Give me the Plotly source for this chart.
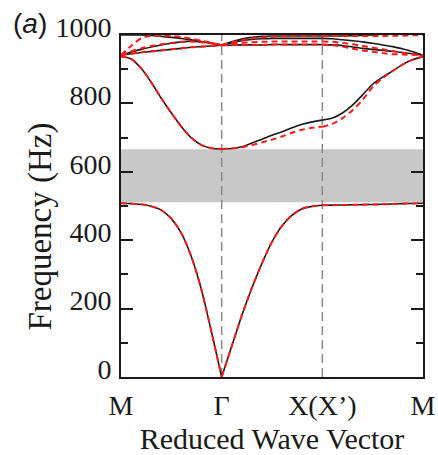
import plotly.graph_objects as go

# Path coordinate: M=0, Gamma=1, X=2, M=3
k_path = [0.0, 0.1, 0.2, 0.3, 0.4, 0.5, 0.6, 0.7, 0.8, 0.9, 1.0,
          1.1, 1.2, 1.3, 1.4, 1.5, 1.6, 1.7, 1.8, 1.9, 2.0,
          2.1, 2.2, 2.3, 2.4, 2.5, 2.6, 2.7, 2.8, 2.9, 3.0]
tick_pos = [0, 1, 2, 3]
tick_text = ["M", "Γ", "X(X’)", "M"]
y_ticks = [0, 200, 400, 600, 800, 1000]
gap_low = 511
gap_high = 666

# Model A (black solid)
black_1 = [508, 507, 505, 499, 488, 463, 420, 351, 254, 130, 0,
           90, 180, 260, 332, 395, 442, 473, 492, 499, 502,
           502.5, 503, 503.5, 504, 504.5, 505, 506, 507, 507.5, 508]
black_2 = [937, 930, 903, 862, 815, 772, 732, 699, 678, 669, 667,
           668, 673, 684, 695, 707, 717, 729, 739, 746, 751,
           757, 772, 795, 825, 856, 877, 895, 914, 928, 937]
black_3 = [941, 945, 949, 952, 955, 958, 961, 964, 966, 968, 970,
           970, 971, 971, 971, 972, 972, 972, 972, 972, 972,
           971, 969, 965, 961, 958, 955, 952, 949, 945, 941]
black_4 = [941, 950, 958, 965, 971, 976, 980, 982, 980, 976, 970,
           977, 983, 987, 989, 990, 990, 990, 990, 990, 990,
           989, 986, 983, 980, 976, 971, 966, 959, 951, 941]
black_5 = [1000, 1000, 1000, 999, 996, 993, 990, 986, 981, 976, 971,
           980, 988, 993, 996, 997, 997, 997, 997, 997, 997,
           997, 997, 998, 999, 1000, 1002, 1004, 1006, 1008, 1010]

# Model B (red dashed)
red_1 = [508, 507, 505, 499, 488, 463, 420, 351, 254, 130, 0,
         90, 180, 260, 332, 395, 442, 473, 492, 499, 502,
         502.5, 503, 503.5, 504, 504.5, 505, 506, 507, 507.5, 508]
red_2 = [937, 930, 903, 862, 815, 772, 732, 699, 678, 669, 667,
         668, 672, 678, 686, 694, 703, 714, 723, 729, 732,
         740, 757, 780, 810, 848, 874, 895, 914, 928, 937]
red_3 = [941, 945, 949, 952, 955, 958, 961, 964, 966, 968, 970,
         970, 971, 971, 971, 972, 972, 972, 972, 972, 972,
         970, 966, 960, 955, 951, 947, 944, 943, 942, 941]
red_4 = [941, 952, 961, 968, 973, 977, 980, 981, 979, 975, 970,
         974, 977, 979, 980, 981, 981, 981, 981, 981, 981,
         980, 977, 973, 968, 963, 958, 953, 948, 944, 941]
red_5 = [941, 968, 990, 998, 998, 997, 994, 989, 983, 977, 971,
         978, 985, 990, 993, 995, 996, 997, 997, 997, 997,
         997, 997, 997, 997, 997, 997, 998, 998, 999, 1000]

black_bands = [black_1, black_2, black_3, black_4, black_5]
red_bands = [red_1, red_2, red_3, red_4, red_5]

legs = [(0, 11), (10, 21), (20, 31)]

fig = go.Figure()


def add_band(values, color, width, dash):
    for a, b in legs:
        fig.add_trace(go.Scatter(
            x=k_path[a:b], y=values[a:b], mode="lines",
            line=dict(color=color, width=width, dash=dash, shape="spline", smoothing=0.8),
            showlegend=False, hoverinfo="skip"))


for band in black_bands:
    add_band(band, "#1a1a1a", 1.6, "solid")
for band in red_bands:
    add_band(band, "#ff1a1a", 2.0, "6px,4px")

shapes = [dict(type="rect", xref="x", yref="y", x0=k_path[0], x1=k_path[-1],
               y0=gap_low, y1=gap_high, fillcolor="#c8c8c8", line=dict(width=0), layer="below")]
for xv in tick_pos[1:3]:
    shapes.append(dict(type="line", xref="x", yref="y", x0=xv, x1=xv, y0=0, y1=1000,
                       line=dict(color="#8a8a8a", width=1.5, dash="9px,5px"), layer="below"))

serif = "Liberation Serif, Times New Roman, serif"
ink = "#1a1a1a"

fig.update_layout(
    width=438, height=455,
    margin=dict(l=121, r=15, t=35, b=78, autoexpand=False),
    paper_bgcolor="white", plot_bgcolor="white",
    shapes=shapes,
    font=dict(family=serif, color=ink, size=28),
    xaxis=dict(range=[0, 3], tickvals=tick_pos, ticktext=tick_text, automargin=False,
               showline=True, linecolor=ink, linewidth=2, mirror=True,
               ticks="", showgrid=False, zeroline=False, ticklabelstandoff=2,
               tickfont=dict(family=serif, size=28, color=ink),
               title=dict(text="Reduced Wave Vector", standoff=10,
                          font=dict(family=serif, size=30, color=ink))),
    yaxis=dict(range=[0, 1000], tickvals=y_ticks, automargin=False,
               showline=True, linecolor=ink, linewidth=2, mirror="ticks",
               ticks="inside", ticklen=12, tickwidth=1.5, tickcolor=ink,
               minor=dict(ticks="inside", ticklen=7, tickwidth=1.5, tickcolor=ink,
                          tick0=0, dtick=100),
               showgrid=False, zeroline=False, ticklabelshift=-8, ticklabelstandoff=2,
               tickfont=dict(family=serif, size=28, color=ink)),
    annotations=[
        dict(text="(<i>a</i>)", xref="paper", yref="paper",
             x=-0.365, y=1.035, xanchor="left", yanchor="middle", showarrow=False,
             font=dict(family="Liberation Sans, Arial, sans-serif", size=28, color=ink)),
        dict(text="Frequency (Hz)", xref="paper", yref="paper", textangle=-90,
             x=-0.268, y=0.44, xanchor="center", yanchor="middle", showarrow=False,
             font=dict(family=serif, size=33, color=ink)),
    ],
)

fig.write_html("out.html")
